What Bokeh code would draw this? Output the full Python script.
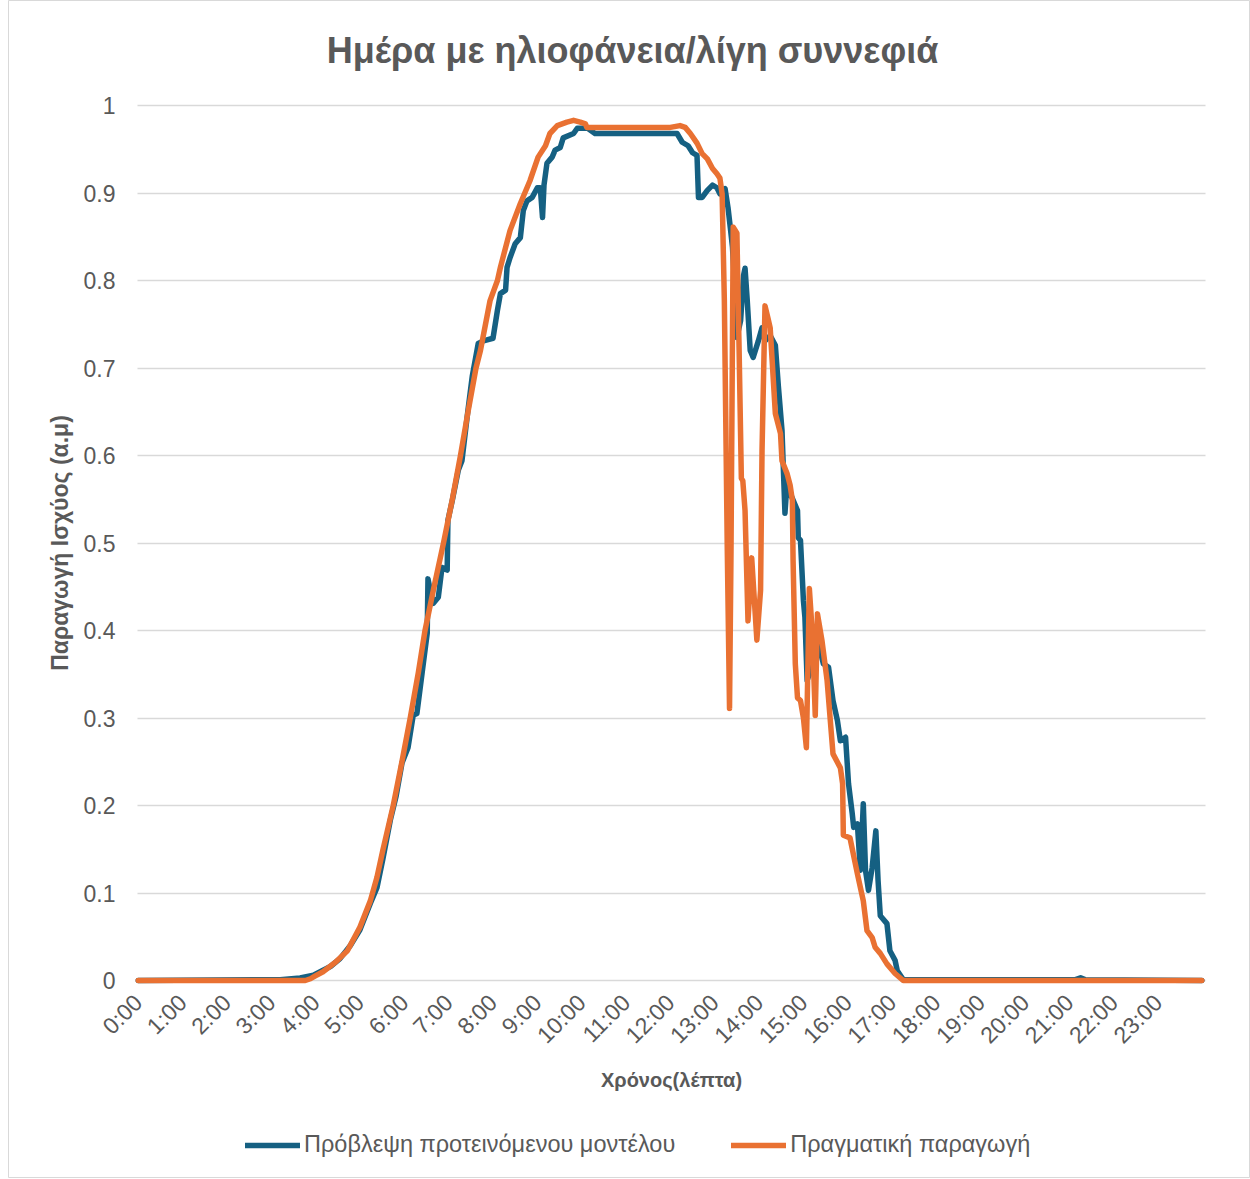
import math
from bokeh.plotting import figure
from bokeh.models import Range1d, FixedTicker, Legend, LegendItem, Label, Grid
from bokeh.embed import file_html
from bokeh.resources import INLINE

# ---------------- data (minutes since midnight, normalised power) ----------------
hour_ticks = [h * 60 for h in range(24)]
hour_labels = [f"{h}:00" for h in range(24)]
y_ticks = [i / 10 for i in range(11)]
y_labels = ["0", "0.1", "0.2", "0.3", "0.4", "0.5", "0.6", "0.7", "0.8", "0.9", "1"]

pred_min = [0, 192, 219, 237, 260, 273, 287, 300, 314, 323, 331, 341, 349, 357, 365, 372, 377,
            384, 391, 392, 395, 399, 406, 411, 418, 419, 425, 433, 438, 446, 452, 460, 467, 480,
            486, 490, 497, 499, 503, 510, 517, 521, 526, 533, 540, 544, 547, 549, 553, 560, 564,
            571, 575, 589, 594, 608, 618, 729, 736, 744, 750, 756, 758, 763, 770, 777, 783, 787,
            794, 798, 801, 804, 808, 810, 815, 819, 821, 824, 828, 832, 839, 844, 848, 855, 862,
            866, 871, 875, 878, 882, 892, 893, 896, 900, 902, 905, 912, 919, 927, 934, 940, 946,
            950, 957, 961, 966, 968, 973, 977, 981, 984, 988, 993, 998, 1001, 1004, 1013, 1017,
            1024, 1027, 1035, 1268, 1275, 1281, 1439]
pred_val = [0.0, 0.001, 0.003, 0.006, 0.016, 0.025, 0.040, 0.058, 0.088, 0.106, 0.139, 0.183,
            0.211, 0.249, 0.266, 0.303, 0.305, 0.351, 0.397, 0.459, 0.446, 0.431, 0.438, 0.472,
            0.469, 0.526, 0.549, 0.583, 0.594, 0.651, 0.691, 0.728, 0.731, 0.734, 0.766, 0.785,
            0.789, 0.815, 0.826, 0.842, 0.849, 0.880, 0.891, 0.895, 0.906, 0.906, 0.872, 0.909,
            0.934, 0.941, 0.949, 0.952, 0.963, 0.968, 0.974, 0.974, 0.968, 0.968, 0.958, 0.954,
            0.946, 0.943, 0.895, 0.895, 0.903, 0.909, 0.906, 0.899, 0.905, 0.883, 0.861, 0.838,
            0.777, 0.735, 0.754, 0.806, 0.814, 0.777, 0.720, 0.712, 0.731, 0.746, 0.731, 0.737,
            0.726, 0.680, 0.629, 0.534, 0.571, 0.557, 0.537, 0.506, 0.503, 0.434, 0.415, 0.343,
            0.360, 0.389, 0.362, 0.358, 0.320, 0.297, 0.274, 0.278, 0.225, 0.191, 0.175, 0.179,
            0.126, 0.202, 0.126, 0.103, 0.129, 0.171, 0.114, 0.074, 0.065, 0.034, 0.023, 0.011,
            0.001, 0.001, 0.003, 0.001, 0.0]

act_min = [0, 226, 233, 239, 250, 267, 283, 300, 314, 323, 331, 345, 357, 368, 379, 388, 400,
           413, 425, 436, 446, 457, 463, 476, 486, 490, 503, 517, 530, 541, 551, 557, 567, 580,
           589, 598, 605, 607, 625, 720, 733, 740, 747, 756, 763, 770, 777, 783, 787, 790, 793,
           797, 800, 802, 805, 810, 813, 816, 818, 821, 825, 830, 837, 842, 844, 848, 852, 855,
           862, 869, 871, 878, 882, 885, 886, 889, 892, 896, 900, 904, 908, 912, 916, 919, 925,
           932, 940, 950, 953, 954, 963, 973, 981, 986, 993, 997, 1004, 1013, 1024, 1035, 1439]
act_val = [0.0, 0.0, 0.002, 0.005, 0.010, 0.021, 0.034, 0.061, 0.091, 0.118, 0.149, 0.200,
           0.251, 0.300, 0.352, 0.400, 0.449, 0.500, 0.550, 0.600, 0.649, 0.700, 0.720, 0.777,
           0.800, 0.815, 0.857, 0.888, 0.914, 0.941, 0.954, 0.968, 0.977, 0.981, 0.983, 0.981,
           0.979, 0.975, 0.975, 0.975, 0.977, 0.975, 0.968, 0.957, 0.945, 0.939, 0.928, 0.922,
           0.917, 0.899, 0.777, 0.491, 0.311, 0.490, 0.861, 0.854, 0.720, 0.574, 0.571, 0.537,
           0.411, 0.483, 0.389, 0.446, 0.606, 0.771, 0.757, 0.746, 0.648, 0.625, 0.594, 0.579,
           0.566, 0.549, 0.480, 0.362, 0.323, 0.320, 0.300, 0.266, 0.448, 0.397, 0.303, 0.419,
           0.389, 0.343, 0.259, 0.243, 0.225, 0.166, 0.163, 0.122, 0.091, 0.057, 0.049, 0.038,
           0.031, 0.019, 0.008, 0.0, 0.0]

title_text = "Ημέρα με ηλιοφάνεια/λίγη συννεφιά"
x_title = "Χρόνος(λέπτα)"
y_title = "Παραγωγή Ισχύος (α.μ)"
pred_name = "Πρόβλεψη προτεινόμενου μοντέλου"
act_name = "Πραγματική παραγωγή"

BLUE = "#156082"
ORANGE = "#E97132"
TXT = "#595959"
GRID = "#D9D9D9"
FONT = "Liberation Sans"

# plot area of the chart: x from -1 to 1444 minutes over px 137..1205; 0 -> px 980, 1 -> px 105
K = 1068 / 1445  # px per minute
X0, X1 = -1, 1444
p = figure(width=1250, height=1178, output_backend="svg", toolbar_location=None,
           x_range=Range1d(X0 - 129 / K, X0 + 1113 / K), y_range=Range1d(-198 / 875, 1178 / 875 - 198 / 875),
           min_border_left=8, min_border_right=0, min_border_top=0, min_border_bottom=0)
p.title.visible = False
p.outline_line_color = GRID
p.outline_line_width = 1
p.background_fill_color = "white"
p.border_fill_color = "white"

# horizontal gridlines limited to the plot area
if "cross_bounds" in Grid.properties():
    p.ygrid.ticker = FixedTicker(ticks=y_ticks)
    p.ygrid.cross_bounds = (X0, X1)
    p.ygrid.grid_line_color = GRID
    p.ygrid.grid_line_width = 1.3
else:
    p.ygrid.visible = False
    p.segment(x0=[X0] * len(y_ticks), x1=[X1] * len(y_ticks), y0=y_ticks, y1=y_ticks,
              line_color=GRID, line_width=1.3)
p.xgrid.visible = False

r_pred = p.line(pred_min, pred_val, line_color=BLUE, line_width=5.5, line_join="round", line_cap="round")
r_act = p.line(act_min, act_val, line_color=ORANGE, line_width=5.5, line_join="round", line_cap="round")

# axes
p.xaxis.fixed_location = 0
p.xaxis.bounds = (X0, X1)
p.xaxis.ticker = FixedTicker(ticks=hour_ticks)
p.xaxis.major_label_overrides = {t: l for t, l in zip(hour_ticks, hour_labels)}
p.xaxis.major_label_orientation = math.pi / 4
p.yaxis.fixed_location = X0
p.yaxis.bounds = (0, 1)
p.yaxis.ticker = FixedTicker(ticks=y_ticks)
p.yaxis.major_label_overrides = {t: l for t, l in zip(y_ticks, y_labels)}
for ax in (p.xaxis, p.yaxis):
    ax.axis_line_color = None
    ax.major_tick_line_color = None
    ax.minor_tick_line_color = None
    ax.major_tick_out = 0
    ax.major_tick_in = 0
    ax.minor_tick_out = 0
    ax.major_label_text_font = FONT
    ax.major_label_text_font_size = "23px"
    ax.major_label_text_color = TXT
    ax.axis_label_text_font = FONT
    ax.axis_label_text_font_style = "bold"
    ax.axis_label_text_color = TXT
p.yaxis.major_label_standoff = 22
p.xaxis.major_label_standoff = 18
p.xaxis.axis_label = x_title
p.xaxis.axis_label_text_font_size = "20px"
p.xaxis.axis_label_standoff = 8
p.yaxis.axis_label = y_title
p.yaxis.axis_label_text_font_size = "23px"
p.yaxis.axis_label_standoff = 8

# title
p.add_layout(Label(x=X0 + (632 - 137) / K, y=(980 - 50) / 875, text=title_text,
                   text_align="center", text_baseline="middle",
                   text_font=FONT, text_font_style="bold", text_font_size="36px", text_color=TXT))

# legend
legend = Legend(items=[LegendItem(label=pred_name, renderers=[r_pred]),
                       LegendItem(label=act_name, renderers=[r_act])],
                orientation="horizontal", location=(237, 20),
                border_line_color=None, background_fill_alpha=0,
                glyph_width=55, glyph_height=20, label_standoff=4, spacing=56,
                padding=0, margin=0,
                label_text_font=FONT, label_text_font_size="23.5px", label_text_color=TXT)
p.add_layout(legend, "center")

open("out.html", "w").write(file_html(p, INLINE))
